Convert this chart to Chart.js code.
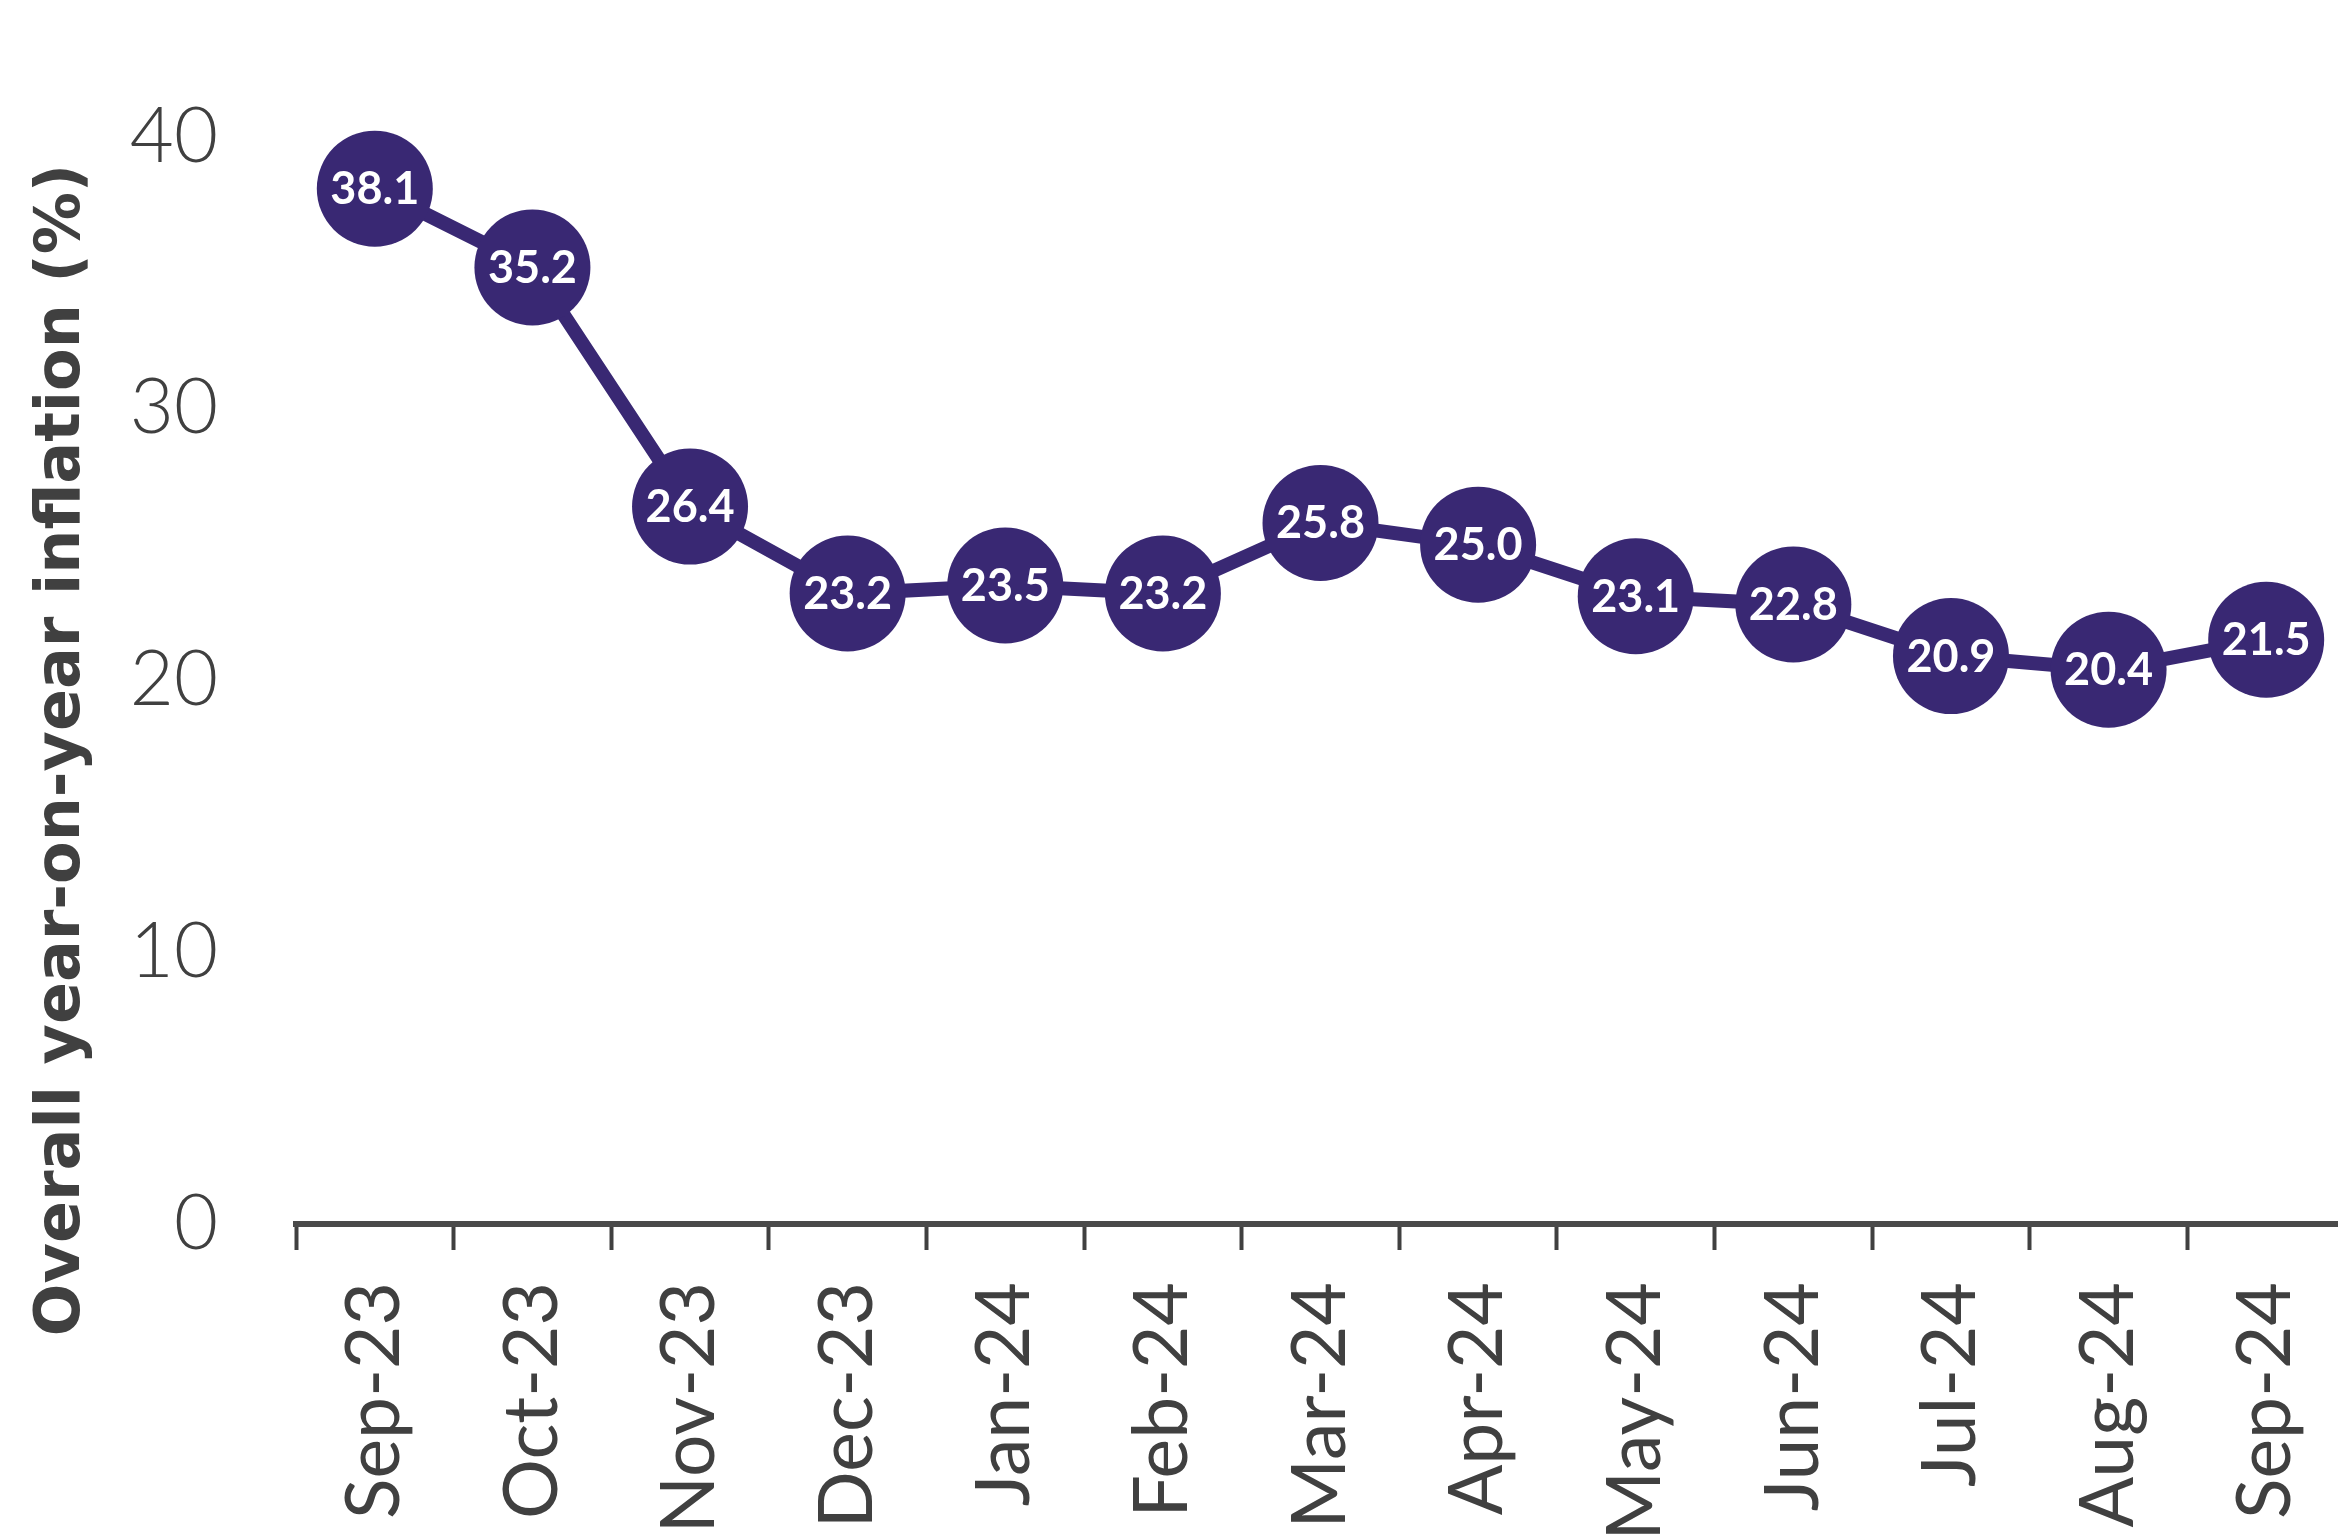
<!DOCTYPE html>
<html>
<head>
<meta charset="utf-8">
<script src="https://cdn.jsdelivr.net/npm/chart.js@4.4.0/dist/chart.umd.min.js"></script>
<style>
html,body{margin:0;padding:0;background:#fff;overflow:hidden}
/* mas ancho que la ventana: el eje x se sale por la derecha como en el original */
#wrap{width:2403px;height:1536px}
</style>
</head>
<body>
<div id="wrap"><canvas id="c"></canvas></div>
<script>
var meses = ['Sep-23','Oct-23','Nov-23','Dec-23','Jan-24','Feb-24','Mar-24','Apr-24','May-24','Jun-24','Jul-24','Aug-24','Sep-24'];
var inflacion = [38.1, 35.2, 26.4, 23.2, 23.5, 23.2, 25.8, 25.0, 23.1, 22.8, 20.9, 20.4, 21.5];
var yMin = 0, yMax = 40, yPaso = 10;
var tituloY = 'Overall year-on-year inflation (%)';

var morado = '#392873';
var gris = '#404040';

// valores dentro de cada circulo
var etiquetas = {
    id: 'etiquetas',
    afterDatasetsDraw: function(chart) {
        var ctx = chart.ctx;
        var meta = chart.getDatasetMeta(0);
        ctx.save();
        ctx.fillStyle = '#fff';
        ctx.font = 'bold 45px Lato';
        ctx.textAlign = 'center';
        ctx.textBaseline = 'middle';
        for (var i = 0; i < meta.data.length; i++) {
            var pt = meta.data[i];
            ctx.fillText(inflacion[i].toFixed(1), pt.x, pt.y + 1);
        }
        ctx.restore();
    }
};

// titulo del eje y, centrado algo mas abajo que el eje
var tituloEje = {
    id: 'tituloEje',
    afterDraw: function(chart) {
        var ctx = chart.ctx;
        ctx.save();
        ctx.translate(63, 750);
        ctx.rotate(-Math.PI / 2);
        ctx.font = 'bold 62px "DejaVu Sans"';
        ctx.fillStyle = gris;
        ctx.textAlign = 'center';
        ctx.textBaseline = 'middle';
        ctx.fillText(tituloY, 0, 0);
        ctx.restore();
    }
};

new Chart(document.getElementById('c'), {
    type: 'line',
    data: {
        labels: meses,
        datasets: [{
            data: inflacion,
            borderColor: morado,
            backgroundColor: morado,
            borderWidth: 14,
            tension: 0,
            pointRadius: 58,
            pointHoverRadius: 58,
            pointBorderWidth: 0,
            pointBackgroundColor: morado,
            clip: false
        }]
    },
    options: {
        responsive: true,
        maintainAspectRatio: false,
        animation: false,
        events: [],
        layout: { padding: { top: 137, left: 0, right: 0, bottom: 0 } },
        plugins: { legend: { display: false }, tooltip: { enabled: false } },
        scales: {
            x: {
                offset: true,
                grid: { offset: true, drawOnChartArea: false, drawTicks: true, tickLength: 26, tickWidth: 4, tickColor: gris },
                border: { display: true, color: '#4a4a4a', width: 6 },
                ticks: { autoSkip: false, minRotation: 90, maxRotation: 90, padding: 32, color: gris, font: { family: 'Lato', size: 75 } },
                afterFit: function(s) { s.height = 312; }
            },
            y: {
                min: yMin,
                max: yMax,
                grid: { display: false },
                border: { display: false },
                ticks: { stepSize: yPaso, padding: 70, color: gris, font: { family: 'Lato', size: 76, weight: '300' } },
                afterFit: function(s) { s.width = 296; }
            }
        }
    },
    plugins: [etiquetas, tituloEje]
});
</script>
</body>
</html>
